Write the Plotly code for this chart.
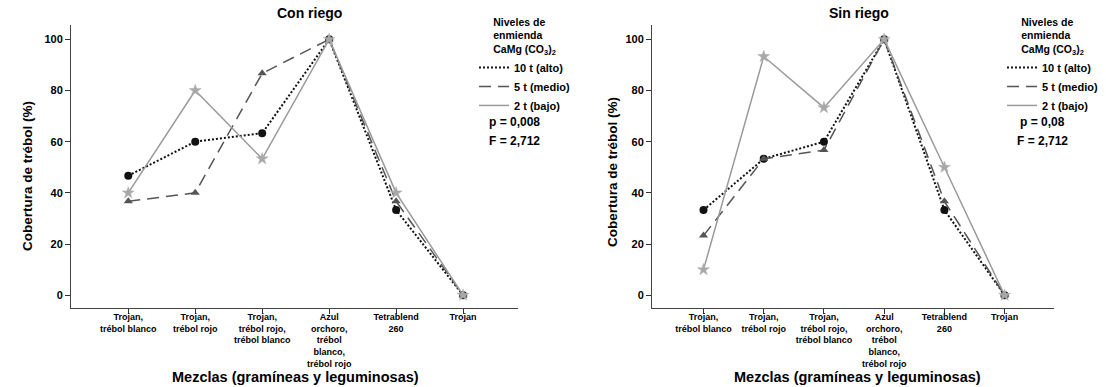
import plotly.graph_objects as go

# ---------------- data ----------------
categories = ["Trojan,<br>trébol blanco", "Trojan,<br>trébol rojo",
              "Trojan,<br>trébol rojo,<br>trébol blanco",
              "Azul<br>orchoro,<br>trébol<br>blanco,<br>trébol rojo",
              "Tetrablend<br>260", "Trojan"]
series_names = ["10 t (alto)", "5 t (medio)", "2 t (bajo)"]

con_alto = [46.7, 60.0, 63.3, 100, 33.3, 0]
con_medio = [36.7, 40.0, 86.7, 100, 36.7, 0]
con_bajo = [40.0, 80.0, 53.3, 100, 40.0, 0]

sin_alto = [33.3, 53.3, 60.0, 100, 33.3, 0]
sin_medio = [23.3, 53.3, 56.7, 100, 36.7, 0]
sin_bajo = [10.0, 93.3, 73.3, 100, 50.0, 0]

y_ticks = [0, 20, 40, 60, 80, 100]
panel_titles = ["Con riego", "Sin riego"]
stats_con = ["p = 0,008", "F = 2,712"]
stats_sin = ["p = 0,08", "F = 2,712"]

# ---------------- style ----------------
W, H = 1106, 387
T, B = 25, 308
FONT = "Liberation Sans, Arial, sans-serif"

styles = [
    dict(line=dict(color="#111111", width=2, dash="2px,2px"),
         marker=dict(symbol="circle", size=8, color="#111111")),
    dict(line=dict(color="#555555", width=1.5, dash="12px,7px"),
         marker=dict(symbol="triangle-up", size=8, color="#555555")),
    dict(line=dict(color="#9a9a9a", width=1.5),
         marker=dict(symbol="star", size=9, color="#a8a8a8",
                     line=dict(color="#b0b0b0", width=0.5))),
]


def px_x(p):
    return p / W


def px_y(p):
    return (B - p) / (B - T)


fig = go.Figure()

panels = [
    (("x", "y"), [con_alto, con_medio, con_bajo], "legend"),
    (("x2", "y2"), [sin_alto, sin_medio, sin_bajo], "legend2"),
]
for (xa, ya), data, lg in panels:
    for name, vals, st in zip(series_names, data, styles):
        fig.add_trace(go.Scatter(
            x=categories, y=vals, mode="lines+markers", name=name,
            xaxis=xa, yaxis=ya, showlegend=False,
            line=st["line"], marker=st["marker"]))
    for name, st in zip(series_names, styles):
        fig.add_trace(go.Scatter(
            x=[None], y=[None], mode="lines", name=name,
            xaxis=xa, yaxis=ya, legend=lg, showlegend=True,
            line=st["line"]))

axis_common = dict(showline=True, linecolor="#444444", linewidth=1,
                   ticks="outside", ticklen=5, tickcolor="#333333",
                   showgrid=False, zeroline=False, automargin=False,
                   tickfont=dict(family=FONT, size=9, color="black", weight="bold"))
xcommon = dict(axis_common, type="category", categoryorder="array",
               categoryarray=categories, range=[-0.855, 5.82], tickangle=0,
               ticklabelstandoff=-5)
ycommon = dict(axis_common, range=[-5, 105.6], tickvals=y_ticks,
               tickfont=dict(family=FONT, size=11, color="black", weight="bold"))

legend_common = dict(
    xref="paper", yref="paper", xanchor="left", yanchor="top",
    bgcolor="rgba(0,0,0,0)", itemwidth=30,
    font=dict(family=FONT, size=11, color="black", weight="bold"),
    title=dict(text="Niveles de<br>enmienda<br>CaMg (CO<sub>3</sub>)<sub>2</sub>",
               side="top center",
               font=dict(family=FONT, size=10.5, color="black", weight="bold")),
)

fig.update_layout(
    width=W, height=H, autosize=False,
    margin=dict(l=0, r=0, t=T, b=H - B, autoexpand=False),
    paper_bgcolor="white", plot_bgcolor="white",
    xaxis=dict(xcommon, domain=[71 / W, 518 / W], anchor="y"),
    yaxis=dict(ycommon, domain=[0, 1], anchor="x"),
    xaxis2=dict(xcommon, domain=[652 / W, 1054 / W], anchor="y2"),
    yaxis2=dict(ycommon, domain=[0, 1], anchor="x2"),
    legend=dict(legend_common, x=px_x(474), y=px_y(12)),
    legend2=dict(legend_common, x=px_x(1002), y=px_y(12)),
)

ann = []
bold = lambda s, sz: dict(family=FONT, size=sz, color="black", weight="bold")
for txt, cx in zip(panel_titles, [309, 859]):
    ann.append(dict(text=txt, x=px_x(cx), y=px_y(13), xref="paper", yref="paper",
                    showarrow=False, font=bold("", 14), xanchor="center", yanchor="middle"))
for cx in [295, 857]:
    ann.append(dict(text="Mezclas (gramíneas y leguminosas)", x=px_x(cx), y=px_y(377),
                    xref="paper", yref="paper", showarrow=False, font=bold("", 14.5),
                    xanchor="center", yanchor="middle"))
for cx, cy in [(27, 176), (612, 172)]:
    ann.append(dict(text="Cobertura de trébol (%)", x=px_x(cx), y=px_y(cy),
                    xref="paper", yref="paper", showarrow=False, textangle=-90,
                    font=bold("", 13.5), xanchor="center", yanchor="middle"))
for stats, xs in [(stats_con, [487, 487]), (stats_sin, [1018, 1015])]:
    for txt, sx, sy in zip(stats, xs, [122, 141]):
        ann.append(dict(text=txt, x=px_x(sx), y=px_y(sy), xref="paper", yref="paper",
                        showarrow=False, font=bold("", 12), xanchor="left", yanchor="middle"))
fig.update_layout(annotations=ann)

fig.write_html("out.html", config={"displayModeBar": False},
               post_script="document.body.style.margin='0';")
